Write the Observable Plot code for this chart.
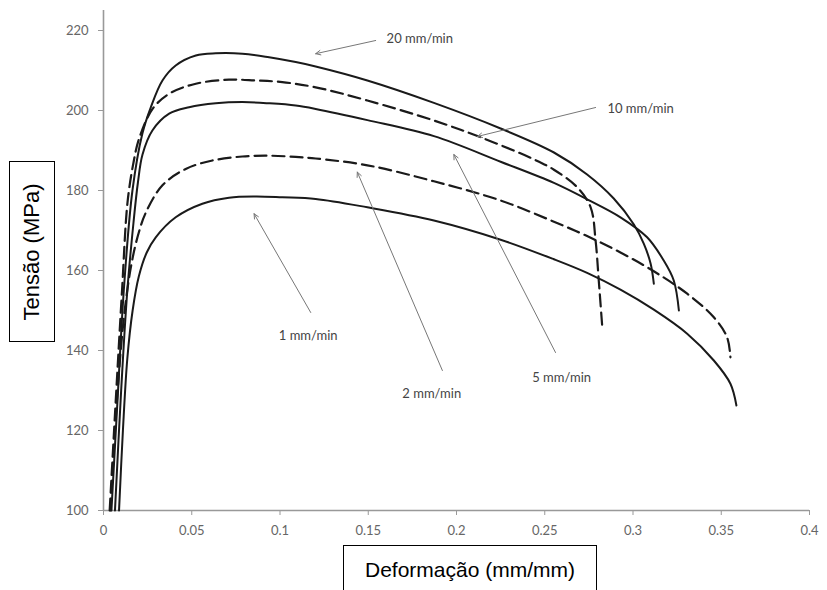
<!DOCTYPE html>
<html>
<head>
<meta charset="utf-8">
<script src="https://cdn.jsdelivr.net/npm/d3@7"></script>
<script src="https://cdn.jsdelivr.net/npm/@observablehq/plot@0.6"></script>
<style>
  html, body { margin: 0; padding: 0; background: #fff; }
  body { width: 827px; height: 590px; overflow: hidden; position: relative; }
  #chart { position: absolute; left: 0; top: 0; }
  .lbl { position: absolute; border: 1px solid #000; background: #fff; box-sizing: border-box;
         font-family: "Liberation Sans", Arial, sans-serif; color: #000; }
  #ylab { left: 9px; top: 161px; width: 46px; height: 181px; display: flex; align-items: center; justify-content: center; }
  #ylab span { display: block; transform: rotate(-90deg); white-space: nowrap; font-size: 22px; }
  #xlab { left: 343px; top: 545px; width: 254px; height: 60px; text-align: center; font-size: 21px; padding-top: 12px; }
</style>
</head>
<body>
<div id="chart"></div>
<div class="lbl" id="ylab"><span>Tensão (MPa)</span></div>
<div class="lbl" id="xlab">Deformação (mm/mm)</div>
<script>
// ---- data (strain mm/mm, stress MPa) ----
const x20 = [0.0045,0.008,0.0115,0.0164,0.022,0.0268,0.0334,0.0409,0.0523,0.0636,0.0787,0.0938,0.1089,0.1202,0.1495,0.1872,0.225,0.2552,0.274,0.2891,0.3005,0.3061,0.31,0.3118];
const y20 = [100,128,155,180,194.2,200.8,207.5,211.25,213.75,214.3,214.2,213.3,212.1,211.0,207.5,201.9,195.5,189.5,184,178,171.5,166.7,161.7,156.7];

const x10 = [0.0035,0.007,0.0105,0.0136,0.017,0.0202,0.0278,0.0372,0.0523,0.0711,0.0862,0.1013,0.1202,0.1495,0.1872,0.2137,0.2438,0.2552,0.2684,0.276,0.2788,0.2806,0.2826];
const y10 = [100,128,155,177,187,193,200.4,204.2,206.7,207.7,207.5,207.1,205.8,202.5,197.5,193.3,187.8,185.2,180.8,175.8,167.5,157.5,145.8];

const x5 = [0.0065,0.01,0.0135,0.017,0.0195,0.0221,0.0277,0.0372,0.0485,0.0636,0.0787,0.0938,0.1089,0.1202,0.1495,0.1872,0.225,0.2552,0.274,0.2929,0.308,0.3174,0.3231,0.326];
const y5 = [100,130,155,172,182,189,195,199.2,200.8,201.8,202.1,201.8,201.25,200.4,197.6,193.6,187.2,181.9,177.8,173.3,168.3,162.5,157.5,150];

const x2 = [0.004,0.008,0.012,0.016,0.02,0.024,0.0334,0.0466,0.0617,0.0787,0.0938,0.1089,0.1202,0.1495,0.1872,0.225,0.2552,0.274,0.2929,0.3118,0.3307,0.3458,0.3533,0.3552];
const y2 = [100,130,150,162,169.5,174.5,181.3,185.4,187.5,188.5,188.7,188.4,188.0,186.3,182.3,177.5,172.2,168.6,164.5,159.8,154.2,148.3,143.3,138.3];

const x1 = [0.0088,0.011,0.0135,0.0165,0.02,0.0245,0.0296,0.0409,0.056,0.0711,0.0862,0.1013,0.1202,0.1495,0.1872,0.225,0.2552,0.274,0.2929,0.3118,0.3307,0.3458,0.3552,0.3586];
const y1 = [100,120,138,150,158.5,164.5,168.3,173.3,176.7,178.2,178.5,178.3,177.9,175.8,172.5,167.7,162.8,159.4,155.2,150.2,144.2,137.5,131.7,126.25];

const seriesNames = ["20 mm/min","10 mm/min","5 mm/min","2 mm/min","1 mm/min"];
const seriesDashed = [false, true, false, true, false];

// annotation labels (data coordinates)
const labelText = ["20 mm/min","10 mm/min","5 mm/min","2 mm/min","1 mm/min"];
const labelX = [0.1604,0.2855,0.2429,0.1693,0.0993];
const labelY = [218,200.5,133.25,129.25,143.75];
// arrows: from (ax1, ay1) to arrowhead at (ax2, ay2)
const ax1 = [0.1542,0.2788,0.2561,0.192,0.1174];
const ay1 = [217.5,200.75,139.5,135,149.5];
const ax2 = [0.1202,0.2118,0.1985,0.1438,0.0853];
const ay2 = [214.2,193.5,189,184.6,174.2];

const xTicks = [0,0.05,0.1,0.15,0.2,0.25,0.3,0.35,0.4];
const yTicks = [100,120,140,160,180,200,220];

// ---- build tables ----
const xs = [x20,x10,x5,x2,x1], ys = [y20,y10,y5,y2,y1];
const solid = [], dashed = [];
seriesNames.forEach((name, i) => {
  const target = seriesDashed[i] ? dashed : solid;
  xs[i].forEach((x, j) => target.push({series: name, x, y: ys[i][j]}));
});
const labels = labelText.map((t, i) => ({t, x: labelX[i], y: labelY[i]}));
const arrows = labelText.map((t, i) => ({x1: ax1[i], y1: ay1[i], x2: ax2[i], y2: ay2[i]}));

const fmt = d => String(+d.toFixed(2));

const chart = Plot.plot({
  width: 827,
  height: 590,
  marginLeft: 103,
  marginRight: 18,
  marginTop: 10,
  marginBottom: 80,
  style: {background: "#fff", fontFamily: "Lato, 'Open Sans', sans-serif"},
  x: {domain: [0, 0.4], label: null},
  y: {domain: [100, 225], label: null},
  marks: [
    Plot.axisX({ticks: xTicks, tickFormat: fmt, tickSize: 5, tickPadding: 10, stroke: "#999", fill: "#666", fontSize: 13, label: null}),
    Plot.axisY({ticks: yTicks, tickFormat: fmt, tickSize: 5, tickPadding: 10, stroke: "#999", fill: "#666", fontSize: 13, label: null}),
    Plot.ruleX([0], {stroke: "#999", strokeWidth: 1.6}),
    Plot.ruleY([100], {stroke: "#999", strokeWidth: 1.6}),
    Plot.line(solid, {x: "x", y: "y", z: "series", stroke: "#1a1a1a", strokeWidth: 2, curve: "catmull-rom"}),
    Plot.line(dashed, {x: "x", y: "y", z: "series", stroke: "#1a1a1a", strokeWidth: 2.2, strokeDasharray: "12,6", curve: "catmull-rom"}),
    Plot.arrow(arrows, {x1: "x1", y1: "y1", x2: "x2", y2: "y2", stroke: "#777", strokeWidth: 1, headLength: 8, headAngle: 50}),
    Plot.text(labels, {x: "x", y: "y", text: "t", textAnchor: "start", fill: "#444", fontSize: 13})
  ]
});
document.getElementById("chart").appendChild(chart);
</script>
</body>
</html>
